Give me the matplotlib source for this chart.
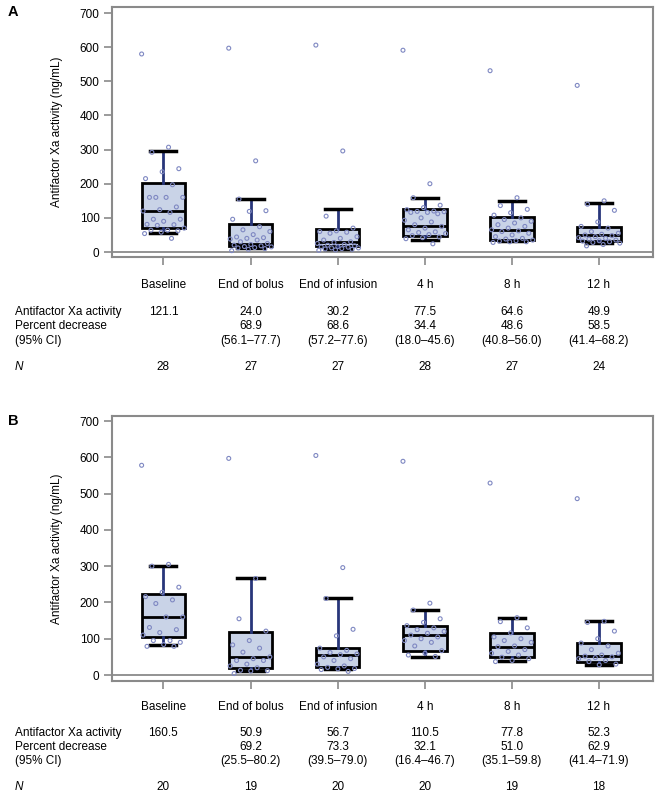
import numpy as np
import matplotlib
matplotlib.use("Agg")
import matplotlib.pyplot as plt
from matplotlib.transforms import blended_transform_factory

plt.rcParams['font.family'] = ['Liberation Sans', 'DejaVu Sans']

categories = ["Baseline", "End of bolus", "End of infusion", "4 h", "8 h", "12 h"]

# Panel A box statistics
a_q1 = [70, 17, 17, 47, 34, 32]
a_med = [121, 24, 30, 77, 65, 51]
a_q3 = [203, 83, 68, 125, 102, 73]
a_lo = [57, 12, 10, 35, 32, 26]
a_hi = [295, 155, 127, 158, 148, 143]
a_points = [
    [580, 307, 292, 244, 235, 215, 197, 160, 160, 160, 160, 132, 124, 120, 116, 96,
     96, 90, 81, 80, 78, 70, 64, 64, 62, 58, 54, 40],
    [597, 267, 155, 121, 119, 96, 74, 65, 60, 51, 44, 42, 40, 38, 35, 30, 25, 22,
     20, 18, 16, 15, 13, 12, 10, 8, 4],
    [606, 296, 105, 70, 62, 60, 58, 55, 45, 40, 35, 30, 28, 25, 22, 20, 18, 16, 15,
     14, 12, 12, 10, 9, 8, 6, 5],
    [591, 200, 159, 137, 130, 124, 120, 119, 118, 116, 116, 112, 100, 93, 88, 80,
     75, 70, 65, 59, 57, 54, 51, 48, 44, 42, 39, 24],
    [531, 159, 136, 125, 115, 108, 100, 95, 90, 85, 80, 75, 70, 65, 62, 60, 55, 50,
     45, 40, 38, 35, 33, 32, 30, 30, 28],
    [488, 150, 140, 122, 88, 75, 70, 60, 55, 52, 50, 48, 45, 42, 40, 38, 35, 33, 32,
     30, 28, 26, 22, 18],
]
a_activity = ["121.1", "24.0", "30.2", "77.5", "64.6", "49.9"]
a_decrease = ["", "68.9", "68.6", "34.4", "48.6", "58.5"]
a_ci = ["", "(56.1\u201377.7)", "(57.2\u201377.6)", "(18.0\u201345.6)", "(40.8\u201356.0)", "(41.4\u201368.2)"]
a_n = ["28", "27", "27", "28", "27", "24"]

# Panel B box statistics
b_q1 = [104, 20, 21, 67, 49, 37]
b_med = [160, 50, 56, 110, 78, 52]
b_q3 = [223, 119, 74, 136, 116, 88]
b_lo = [84, 11, 17, 51, 39, 28]
b_hi = [300, 266, 211, 179, 158, 148]
b_points = [
    [578, 305, 300, 242, 228, 216, 207, 197, 160, 160, 131, 125, 117, 110, 95, 95,
     90, 84, 79, 79],
    [597, 266, 155, 121, 95, 83, 74, 63, 50, 45, 40, 40, 30, 25, 20, 13, 12, 11, 4],
    [605, 296, 211, 126, 108, 74, 68, 62, 58, 56, 50, 45, 40, 30, 25, 21, 18, 17,
     15, 10],
    [589, 198, 179, 155, 145, 136, 130, 125, 120, 115, 110, 105, 100, 95, 90, 80,
     67, 60, 55, 51],
    [529, 158, 147, 130, 116, 105, 100, 95, 90, 80, 78, 70, 65, 60, 55, 49, 45, 40,
     37],
    [486, 148, 145, 121, 100, 88, 80, 70, 60, 55, 52, 50, 48, 45, 40, 37, 30, 28],
]
b_activity = ["160.5", "50.9", "56.7", "110.5", "77.8", "52.3"]
b_decrease = ["", "69.2", "73.3", "32.1", "51.0", "62.9"]
b_ci = ["", "(25.5\u201380.2)", "(39.5\u201379.0)", "(16.4\u201346.7)", "(35.1\u201359.8)", "(41.4\u201371.9)"]
b_n = ["20", "19", "20", "20", "19", "18"]

W, H = 664, 800
fig = plt.figure(figsize=(W / 100, H / 100), dpi=100)

FRAME = "#8a8a8a"
BOXFILL = "#c9d3e7"
NAVY = "#28367a"
PTS = "#7f88c2"
FS = 8.5


def panel(top, bottom, ylim, letter, q1, med, q3, lo, hi, pts,
          act, dec, ci, n, rows_y):
    ax = fig.add_axes([112 / W, 1 - bottom / H, (653 - 112) / W, (bottom - top) / H])
    stats = []
    for i in range(len(categories)):
        stats.append(dict(q1=q1[i], med=med[i], q3=q3[i], whislo=lo[i], whishi=hi[i],
                          fliers=[], label=categories[i]))
    pos = np.arange(len(categories))
    ax.bxp(stats, positions=pos, widths=0.5, capwidths=0.3, patch_artist=True,
           showfliers=False,
           boxprops=dict(facecolor=BOXFILL, edgecolor="black", linewidth=2),
           medianprops=dict(color="black", linewidth=2),
           whiskerprops=dict(color=NAVY, linewidth=2),
           capprops=dict(color="black", linewidth=2.5), zorder=2)
    for i, vals in enumerate(pts):
        k = np.arange(len(vals))
        offs = ((k * 0.618) % 1 - 0.5) * 0.5
        ax.scatter(pos[i] + offs, vals, s=8, facecolors="none", edgecolors=PTS,
                   linewidths=0.8, zorder=3)
    ax.axhline(0, color=FRAME, linewidth=1.3, zorder=1)
    ax.set_xlim(-0.59, 5.62)
    ax.set_ylim(*ylim)
    ax.set_yticks(range(0, 701, 100))
    ax.set_xticks(pos)
    ax.set_xticklabels([])
    for s in ax.spines.values():
        s.set_color(FRAME)
        s.set_linewidth(1.5)
    ax.tick_params(axis="both", direction="out", color=FRAME, length=6, width=1.2,
                   labelsize=FS, pad=3)
    ax.set_ylabel("Antifactor Xa activity (ng/mL)", fontsize=FS, labelpad=12)

    fig.text(8 / W, 1 - (top + 5) / H, letter, fontsize=10.5, fontweight="bold",
             va="center", ha="left")

    tr = blended_transform_factory(ax.transData, fig.transFigure)
    yc, ya, yd, yci, yn = [1 - v / H for v in rows_y]
    for i in range(len(categories)):
        ax.text(pos[i], yc, categories[i], transform=tr, ha="center", va="center", fontsize=FS)
        ax.text(pos[i], ya, act[i], transform=tr, ha="center", va="center", fontsize=FS)
        ax.text(pos[i], yd, dec[i], transform=tr, ha="center", va="center", fontsize=FS)
        ax.text(pos[i], yci, ci[i], transform=tr, ha="center", va="center", fontsize=FS)
        ax.text(pos[i], yn, n[i], transform=tr, ha="center", va="center", fontsize=FS)
    fig.text(15 / W, ya, "Antifactor Xa activity", ha="left", va="center", fontsize=FS)
    fig.text(15 / W, yd, "Percent decrease", ha="left", va="center", fontsize=FS)
    fig.text(15 / W, yci, "(95% CI)", ha="left", va="center", fontsize=FS)
    fig.text(15 / W, yn, "N", ha="left", va="center", fontsize=FS, style="italic")
    return ax


panel(7, 257, (-14.6, 717.6), "A", a_q1, a_med, a_q3, a_lo, a_hi, a_points,
      a_activity, a_decrease, a_ci, a_n, [285, 312, 326, 341, 367])
panel(416, 681, (-16.5, 713.8), "B", b_q1, b_med, b_q3, b_lo, b_hi, b_points,
      b_activity, b_decrease, b_ci, b_n, [707, 733, 747, 761, 787])

fig.savefig("out.png", dpi=100)
